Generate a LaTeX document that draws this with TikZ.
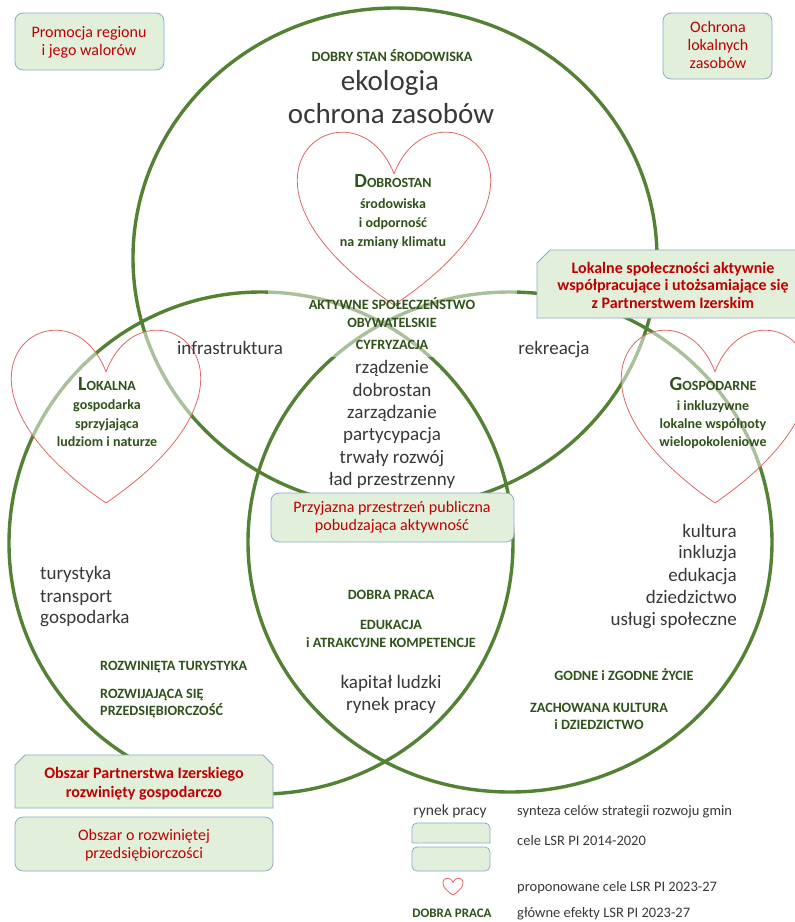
\documentclass[tikz,border=0pt]{standalone}
\usepackage{fontspec}
\setmainfont{Carlito}
\definecolor{cgreen}{HTML}{548235}
\definecolor{tgreen}{HTML}{2E5219}
\definecolor{tred}{HTML}{C00000}
\definecolor{tgray}{HTML}{383838}
\definecolor{bfill}{HTML}{E2EFDA}
\definecolor{bline}{HTML}{8EA9C8}
\definecolor{hred}{HTML}{E06666}
\newcommand{\fs}[1]{\fontsize{#1}{#1}\selectfont}
\newcommand{\hdr}[2]{{\fs{20}#1}{\fs{14}#2}}
\newcommand{\heartshape}{(0,43.75) .. controls (39.6,-58.3) and (194,43.75) .. (0,175) .. controls (-194,43.75) and (-39.6,-58.3) .. (0,43.75) -- cycle}
\tikzset{
  ring/.style={draw=cgreen, line width=3.4pt},
  veil/.style={fill=white, fill opacity=0.5},
  heartline/.style={draw=hred, line width=0.8pt, fill=white, fill opacity=0.5},
  gbox/.style={fill=bfill, draw=bline, line width=0.8pt},
  lbl/.style={inner sep=0pt, anchor=base},
  big/.style={lbl, text=tgray, font=\fs{19}},
  bigw/.style={big, anchor=base west},
  bige/.style={big, anchor=base east},
  huge/.style={lbl, text=tgray, font=\fs{29}},
  gt/.style={lbl, text=tgreen, font=\bfseries\fs{14.2}},
  gtw/.style={gt, anchor=base west},
  ht/.style={lbl, text=tgreen, font=\bfseries\fs{14}},
  rt/.style={lbl, text=tred, font=\fs{16}},
  rtb/.style={lbl, text=tred, font=\bfseries\fs{16}},
  leg/.style={lbl, text=tgray, font=\fs{14.5}, anchor=base west},
}
\begin{document}
\begin{tikzpicture}[x=1pt, y=-1pt]
\useasboundingbox (0,0) rectangle (795,922);
\clip (0,0) rectangle (795,922);
% circles
\draw[ring] (395,258) ellipse [x radius=262pt, y radius=250pt];
\draw[ring] (261,543) ellipse [x radius=252pt, y radius=251pt];
\draw[ring] (510,542) ellipse [x radius=262pt, y radius=250pt];
% translucent text area
\path[veil] (268,288) rectangle (517,357);
% hearts
\begin{scope}[shift={(394,130)}, xscale=192/190]
  \path[heartline] \heartshape;
\end{scope}
\begin{scope}[shift={(106,328)}, xscale=188/190]
  \path[heartline] \heartshape;
\end{scope}
\begin{scope}[shift={(715,328)}, xscale=186/190]
  \path[heartline] \heartshape;
\end{scope}
\begin{scope}[shift={(453,878)}, xscale=20/190, yscale=17/175]
  \path[heartline] \heartshape;
\end{scope}
% boxes
\path[gbox, rounded corners=8pt] (15,13) rectangle (164,70);
\path[gbox, rounded corners=8pt] (663,13) rectangle (772,79);
\path[gbox] (550,250) -- (798,250) -- (798,318) -- (537,318) -- (537,263) -- cycle;
\path[gbox, rounded corners=8pt] (271,493) rectangle (514,542);
\path[gbox] (25,755) -- (263,755) -- (273,765) -- (273,808) -- (15,808) -- (15,765) -- cycle;
\path[gbox, rounded corners=8pt] (15,817) rectangle (273,871);
\path[gbox] (412,843) [rounded corners=5pt] -- (412,823) -- (490,823) [sharp corners] -- (490,843) -- cycle;
\path[gbox, rounded corners=5pt] (412,847) rectangle (490,871);
% top circle texts
\node[gt] (dss) at (392,61) {DOBRY STAN ŚRODOWISKA};
\node[huge] (eko) at (390,90) {ekologia};
\node[huge] (ochz) at (391,123) {ochrona zasobów};
% heart texts
\node[ht] (dob1) at (393,187) {\hdr{D}{OBROSTAN}};
\node[ht] (dob2) at (393,208) {środowiska};
\node[ht] (dob3) at (393,227) {i odporność};
\node[ht] (dob4) at (393,246) {na zmiany klimatu};
\node[ht] (lok1) at (107,390) {\hdr{L}{OKALNA}};
\node[ht] (lok2) at (107,409) {gospodarka};
\node[ht] (lok3) at (107,428) {sprzyjająca};
\node[ht] (lok4) at (107,446) {ludziom i naturze};
\node[ht] (gos1) at (713,390) {\hdr{G}{OSPODARNE}};
\node[ht] (gos2) at (713,410) {i inkluzywne};
\node[ht] (gos3) at (713,428) {lokalne wspólnoty};
\node[ht] (gos4) at (713,446) {wielopokoleniowe};
% centre
\node[gt] (akt1) at (392,309) {AKTYWNE SPOŁECZEŃSTWO};
\node[gt] (akt2) at (392,327) {OBYWATELSKIE};
\node[gt] (cyf) at (392,349) {CYFRYZACJA};
\node[big] (infra) at (230,354) {infrastruktura};
\node[big] (rekr) at (554,354) {rekreacja};
\node[big] (c1) at (392,373) {rządzenie};
\node[big] (c2) at (392,396) {dobrostan};
\node[big] (c3) at (392,418) {zarządzanie};
\node[big] (c4) at (392,440) {partycypacja};
\node[big] (c5) at (392,463) {trwały rozwój};
\node[big] (c6) at (392,485) {ład przestrzenny};
\node[rt] (prz1) at (392,512) {Przyjazna przestrzeń publiczna};
\node[rt] (prz2) at (392,530) {pobudzająca aktywność};
\node[gt] (dp) at (391,599) {DOBRA PRACA};
\node[gt] (edu1) at (391,629) {EDUKACJA};
\node[gt] (edu2) at (391,647) {i ATRAKCYJNE KOMPETENCJE};
\node[big] (kap) at (391,688) {kapitał ludzki};
\node[big] (ryn) at (391,710) {rynek pracy};
% right
\node[bige] (r1) at (737,537) {kultura};
\node[bige] (r2) at (737,558) {inkluzja};
\node[bige] (r3) at (737,581) {edukacja};
\node[bige] (r4) at (737,603) {dziedzictwo};
\node[bige] (r5) at (737,625) {usługi społeczne};
\node[gt] (godne) at (624,680) {GODNE i ZGODNE ŻYCIE};
\node[gt] (zach1) at (599,712) {ZACHOWANA KULTURA};
\node[gt] (zach2) at (599,729) {i DZIEDZICTWO};
% left
\node[bigw] (l1) at (40,579) {turystyka};
\node[bigw] (l2) at (40,602) {transport};
\node[bigw] (l3) at (40,623) {gospodarka};
\node[gtw] (roz1) at (100,670) {ROZWINIĘTA TURYSTYKA};
\node[gtw] (roz2) at (100,698) {ROZWIJAJĄCA SIĘ};
\node[gtw] (roz3) at (100,715) {PRZEDSIĘBIORCZOŚĆ};
% box texts
\node[rt] (pro1) at (89,37) {Promocja regionu};
\node[rt] (pro2) at (89,55) {i jego walorów};
\node[rt] (och1) at (718,32) {Ochrona};
\node[rt] (och2) at (718,50) {lokalnych};
\node[rt] (och3) at (718,68) {zasobów};
\node[rtb] (lsp1) at (673,273) {Lokalne społeczności aktywnie};
\node[rtb] (lsp2) at (673,290) {współpracujące i utożsamiające się};
\node[rtb] (lsp3) at (673,308) {z Partnerstwem Izerskim};
\node[rtb] (obp1) at (144,778) {Obszar Partnerstwa Izerskiego};
\node[rtb] (obp2) at (144,797) {rozwinięty gospodarczo};
\node[rt] (obr1) at (144,840) {Obszar o rozwiniętej};
\node[rt] (obr2) at (144,858) {przedsiębiorczości};
% legend
\node[lbl, text=tgray, font=\fs{15.5}] (lgr) at (450,815) {rynek pracy};
\node[lbl, text=tgreen, font=\bfseries\fs{13}] (lgd) at (452,917) {DOBRA PRACA};
\node[leg] (lg1) at (517,815) {synteza celów strategii rozwoju gmin};
\node[leg] (lg2) at (517,845) {cele LSR PI 2014-2020};
\node[leg] (lg3) at (517,891) {proponowane cele LSR PI 2023-27};
\node[leg] (lg4) at (517,917) {główne efekty LSR PI 2023-27};
\end{tikzpicture}
\end{document}
